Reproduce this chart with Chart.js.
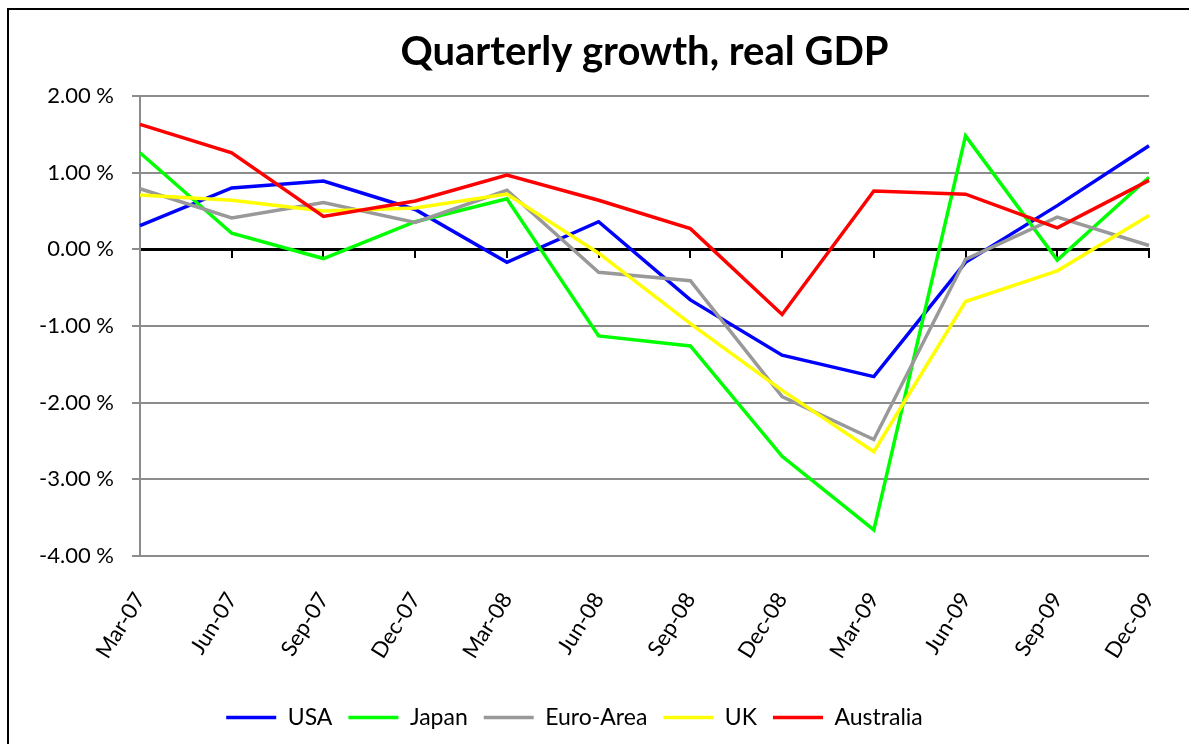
<!DOCTYPE html>
<html>
<head>
<meta charset="utf-8">
<script src="https://cdn.jsdelivr.net/npm/chart.js@4.4.1/dist/chart.umd.min.js"></script>
<style>
  html, body { margin: 0; padding: 0; background: #fff; overflow: hidden; }
  #frame { position: absolute; left: 7px; top: 8px; width: 1400px; height: 1000px; border: 2px solid #000; box-shadow: 1px 1px 0 #bbb; }
  #myChart { position: absolute; left: 0; top: 0; }
</style>
</head>
<body>
<div id="frame"></div>
<canvas id="myChart" width="1189" height="744"></canvas>
<script>
const quarters = ['Mar-07', 'Jun-07', 'Sep-07', 'Dec-07', 'Mar-08', 'Jun-08', 'Sep-08', 'Dec-08', 'Mar-09', 'Jun-09', 'Sep-09', 'Dec-09'];

const usa = [0.31, 0.80, 0.89, 0.52, -0.17, 0.36, -0.66, -1.38, -1.66, -0.17, 0.57, 1.35];
const japan = [1.26, 0.21, -0.12, 0.36, 0.66, -1.13, -1.26, -2.70, -3.66, 1.48, -0.14, 0.94];
const euroArea = [0.79, 0.41, 0.61, 0.35, 0.77, -0.30, -0.41, -1.92, -2.48, -0.13, 0.42, 0.05];
const uk = [0.71, 0.64, 0.50, 0.54, 0.72, -0.05, -0.97, -1.84, -2.64, -0.68, -0.28, 0.44];
const australia = [1.63, 1.26, 0.43, 0.63, 0.97, 0.64, 0.27, -0.85, 0.76, 0.72, 0.28, 0.90];

const yTicks = [-4, -3, -2, -1, 0, 1, 2];

const font = 'Lato, "Open Sans", sans-serif';

function series(label, data, color, order) {
    return {
        label: label,
        data: data,
        borderColor: color,
        backgroundColor: color,
        borderWidth: 3.5,
        pointRadius: 0,
        tension: 0,
        order: order
    };
}

const ctx = document.getElementById('myChart');
const myChart = new Chart(ctx, {
    type: 'line',
    data: {
        labels: quarters,
        datasets: [
            series('USA', usa, '#0000ff', 4),
            series('Japan', japan, '#00ff00', 3),
            series('Euro-Area', euroArea, '#999999', 2),
            series('UK', uk, '#ffff00', 1),
            series('Australia', australia, '#ff0000', 0)
        ]
    },
    options: {
        responsive: false,
        animation: false,
        devicePixelRatio: 1,
        layout: {
            padding: { left: 0, right: 40, top: 0, bottom: 5 }
        },
        scales: {
            x: {
                type: 'category',
                position: 'bottom',
                offset: false,
                grid: { display: false },
                border: { display: false },
                ticks: {
                    color: '#000',
                    font: { family: font, size: 22 },
                    autoSkip: false,
                    minRotation: 58,
                    maxRotation: 58,
                    padding: 24
                },
                afterFit: function (scale) {
                    scale.height = 134;
                    scale.paddingLeft = 0;
                    scale.paddingRight = 0;
                }
            },
            x2: {
                type: 'category',
                labels: quarters,
                position: { y: 0 },
                offset: false,
                grid: {
                    drawOnChartArea: false,
                    drawTicks: true,
                    tickLength: 7,
                    color: '#000',
                    lineWidth: 2
                },
                border: { color: '#000', width: 3 },
                ticks: {
                    autoSkip: false,
                    callback: function () { return ''; }
                }
            },
            y: {
                min: yTicks[0],
                max: yTicks[yTicks.length - 1],
                afterBuildTicks: function (scale) {
                    scale.ticks = yTicks.map(v => ({ value: v }));
                },
                grid: {
                    color: '#8c8c8c',
                    lineWidth: 2,
                    tickLength: 8
                },
                border: { color: '#8c8c8c', width: 2 },
                ticks: {
                    color: '#000',
                    font: { family: font, size: 22 },
                    padding: 18,
                    callback: function (v) { return v.toFixed(2) + ' %'; }
                },
                afterFit: function (scale) { scale.width = 140; }
            }
        },
        plugins: {
            title: {
                display: true,
                text: 'Quarterly growth, real GDP',
                fullSize: false,
                color: '#000',
                font: { family: font, size: 40, weight: 'bold' },
                padding: { top: 28, bottom: 20 }
            },
            legend: {
                position: 'bottom',
                labels: {
                    color: '#000',
                    font: { family: font, size: 23 },
                    usePointStyle: true,
                    pointStyle: 'line',
                    pointStyleWidth: 50,
                    padding: 16,
                    sort: (a, b) => a.datasetIndex - b.datasetIndex
                }
            },
            tooltip: { enabled: false }
        }
    }
});
</script>
</body>
</html>
